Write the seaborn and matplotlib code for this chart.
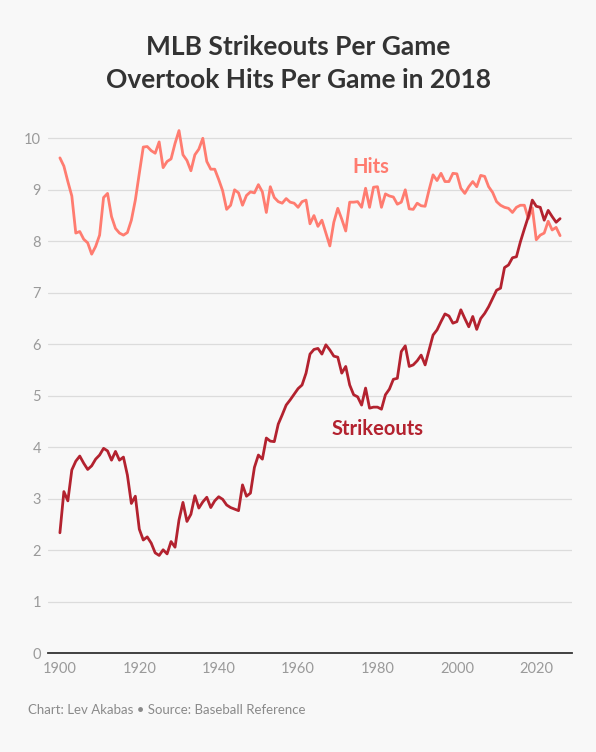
import matplotlib
matplotlib.use("Agg")
import matplotlib.pyplot as plt
import seaborn as sns
import pandas as pd
import numpy as np

years = list(range(1900, 2027))

hits = [9.62, 9.46, 9.16, 8.88, 8.16, 8.19, 8.04, 7.97, 7.75, 7.90,
        8.12, 8.85, 8.93, 8.48, 8.25, 8.16, 8.12, 8.17, 8.41, 8.80,
        9.32, 9.83, 9.84, 9.76, 9.71, 9.93, 9.43, 9.55, 9.60, 9.90,
        10.15, 9.68, 9.57, 9.37, 9.68, 9.79, 10.00, 9.55, 9.40, 9.40,
        9.20, 8.98, 8.62, 8.70, 9.00, 8.94, 8.70, 8.89, 8.96, 8.94,
        9.10, 8.96, 8.56, 9.06, 8.85, 8.77, 8.74, 8.83, 8.76, 8.74,
        8.66, 8.77, 8.80, 8.34, 8.50, 8.29, 8.41, 8.16, 7.91, 8.37,
        8.64, 8.43, 8.20, 8.76, 8.76, 8.77, 8.66, 9.03, 8.66, 9.05,
        9.06, 8.66, 8.92, 8.88, 8.86, 8.72, 8.76, 9.00, 8.63, 8.62,
        8.74, 8.69, 8.68, 9.00, 9.29, 9.18, 9.32, 9.16, 9.16, 9.32,
        9.31, 9.03, 8.93, 9.06, 9.16, 9.06, 9.28, 9.26, 9.06, 8.95,
        8.77, 8.70, 8.66, 8.64, 8.56, 8.66, 8.70, 8.70, 8.44, 8.65,
        8.03, 8.12, 8.16, 8.39, 8.22, 8.27, 8.11]

strikeouts = [2.34, 3.14, 2.96, 3.56, 3.73, 3.83, 3.69, 3.57, 3.64, 3.77,
              3.85, 3.98, 3.93, 3.75, 3.92, 3.75, 3.81, 3.46, 2.91, 3.05,
              2.41, 2.20, 2.26, 2.14, 1.95, 1.90, 2.01, 1.93, 2.17, 2.06,
              2.59, 2.93, 2.56, 2.70, 3.06, 2.82, 2.94, 3.03, 2.83, 2.96,
              3.04, 2.99, 2.88, 2.83, 2.80, 2.77, 3.27, 3.05, 3.11, 3.61,
              3.85, 3.77, 4.18, 4.12, 4.11, 4.45, 4.63, 4.82, 4.92, 5.03,
              5.14, 5.21, 5.44, 5.81, 5.90, 5.92, 5.81, 5.99, 5.89, 5.77,
              5.75, 5.44, 5.57, 5.21, 5.02, 4.98, 4.82, 5.15, 4.76, 4.78,
              4.78, 4.74, 5.02, 5.13, 5.32, 5.34, 5.86, 5.97, 5.57, 5.60,
              5.68, 5.79, 5.60, 5.89, 6.18, 6.28, 6.44, 6.59, 6.55, 6.41,
              6.44, 6.67, 6.50, 6.34, 6.54, 6.29, 6.50, 6.60, 6.73, 6.89,
              7.05, 7.09, 7.49, 7.54, 7.68, 7.70, 7.99, 8.24, 8.48, 8.80,
              8.68, 8.66, 8.41, 8.60, 8.48, 8.37, 8.44]

series_names = ["Hits", "Strikeouts"]
x_ticks = [1900, 1920, 1940, 1960, 1980, 2000, 2020]
y_ticks = list(range(0, 11))

HIT_COLOR = "#FF7C70"
SO_COLOR = "#B3222F"
BG = "#F8F8F8"

df = pd.DataFrame({
    "Year": years * 2,
    "Value": hits + strikeouts,
    "Series": [series_names[0]] * len(years) + [series_names[1]] * len(years),
})

sns.set_theme(style="white")
plt.rcParams["font.family"] = ["Lato", "DejaVu Sans"]

fig = plt.figure(figsize=(5.96, 7.52), dpi=100, facecolor=BG)
ax = fig.add_axes([48 / 596, (752 - 653.3) / 752, (572 - 48) / 596, 10.5 * 51.5 / 752])
ax.set_facecolor(BG)

sns.lineplot(data=df, x="Year", y="Value", hue="Series",
             palette={series_names[0]: HIT_COLOR, series_names[1]: SO_COLOR},
             linewidth=2.0, legend=False, ax=ax)

ax.set_xlim(1897, 2029)
ax.set_ylim(0, 10.5)
ax.set_xticks(x_ticks)
ax.set_yticks(y_ticks)
ax.set_xticklabels([str(t) for t in x_ticks], color="#9A9A9A", fontsize=10.5)
ax.set_yticklabels([str(t) for t in y_ticks], color="#9A9A9A", fontsize=10.5)
ax.tick_params(axis="both", length=0)
ax.tick_params(axis="x", pad=6)
ax.tick_params(axis="y", pad=5)
ax.set_xlabel("")
ax.set_ylabel("")
ax.grid(axis="y", color="#DCDCDC", linewidth=0.9)
ax.set_axisbelow(True)
for s in ["top", "right", "left"]:
    ax.spines[s].set_visible(False)
ax.spines["bottom"].set_color("#333333")
ax.spines["bottom"].set_linewidth(1.3)

ax.text(1978.3, 9.44, "Hits", color=HIT_COLOR, fontsize=14.5,
        fontweight="bold", ha="center", va="center")
ax.text(1980.0, 4.36, "Strikeouts", color=SO_COLOR, fontsize=14.5,
        fontweight="bold", ha="center", va="center")

fig.text(0.5, 1 - 47 / 752, "MLB Strikeouts Per Game", ha="center", va="center",
         fontsize=19, fontweight="bold", color="#333333")
fig.text(0.5, 1 - 80 / 752, "Overtook Hits Per Game in 2018", ha="center", va="center",
         fontsize=19, fontweight="bold", color="#333333")
fig.text(28 / 596, 1 - 710 / 752, "Chart: Lev Akabas \u2022 Source: Baseball Reference",
         ha="left", va="center", fontsize=9.5, color="#8A8A8A")

fig.savefig("out.png", dpi=100, facecolor=BG)
